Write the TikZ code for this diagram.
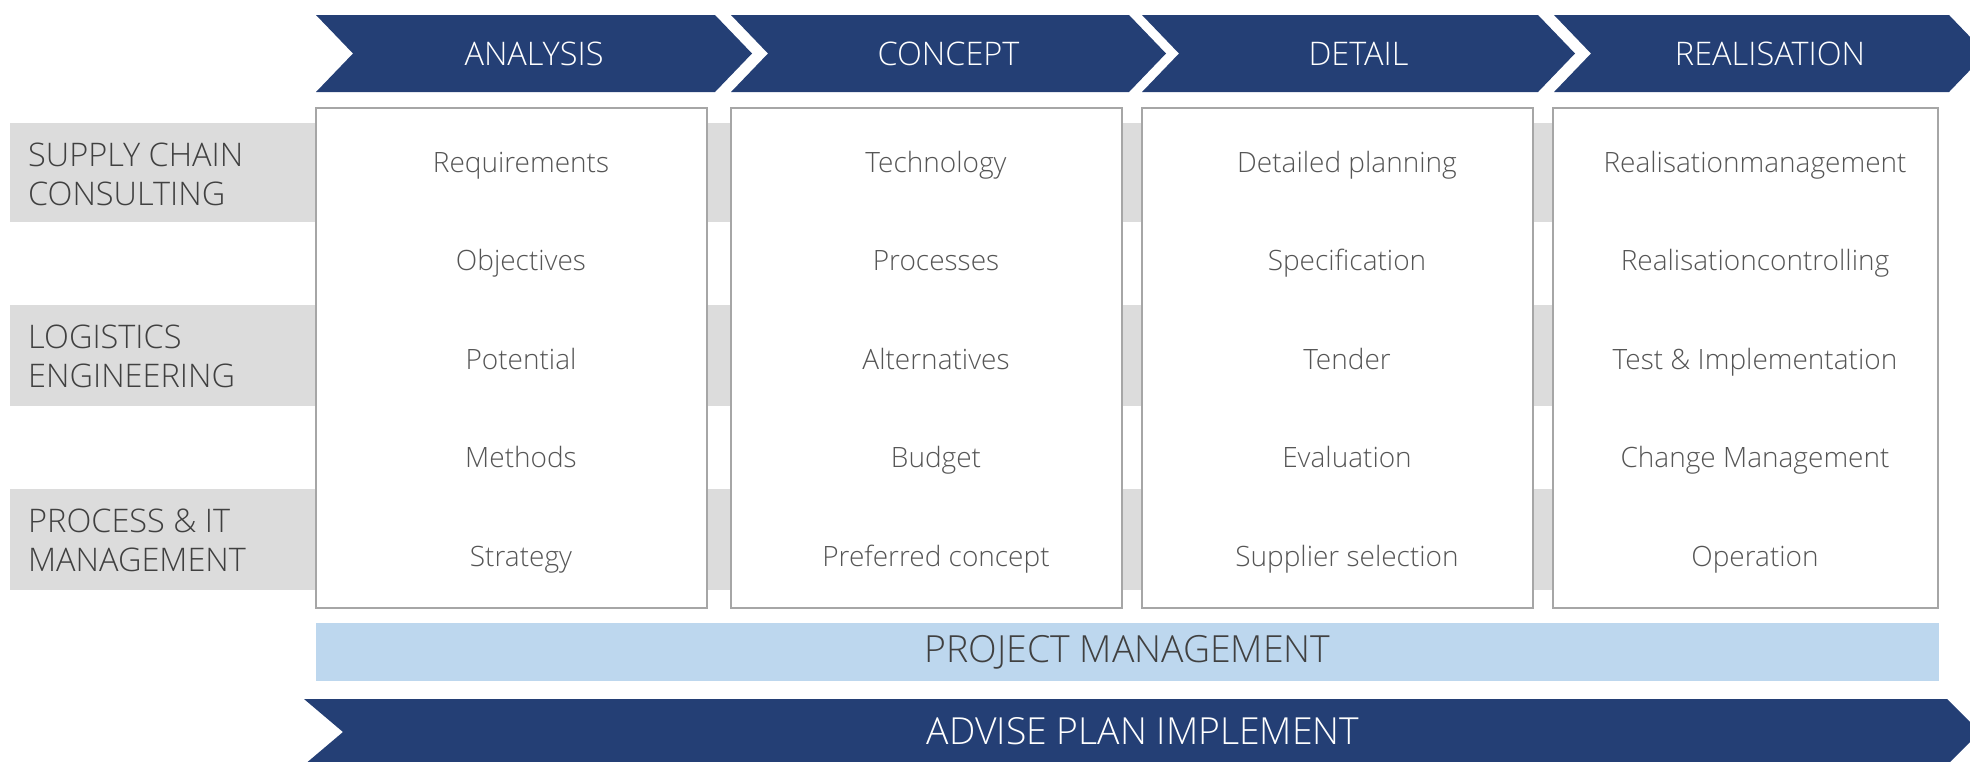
\documentclass[tikz,border=0pt]{standalone}
\usepackage{fontspec}
\IfFontExistsTF{Open Sans Light}{\setmainfont{Open Sans Light}}{\setmainfont{Open Sans}}
\definecolor{navy}{RGB}{36,63,117}
\definecolor{pmblue}{RGB}{189,215,238}
\definecolor{band}{RGB}{220,220,220}
\definecolor{boxline}{RGB}{166,166,166}
\definecolor{itemtext}{RGB}{85,85,85}
\definecolor{labeltext}{RGB}{64,64,64}
\tikzset{
  chevfill/.style={fill=navy, draw=none},
  chevtext/.style={text=white, font=\fontsize{32.5}{38}\selectfont, inner sep=0pt},
  bandfill/.style={fill=band, draw=none},
  colbox/.style={fill=white, draw=boxline, line width=1.5pt},
  item/.style={text=itemtext, font=\fontsize{28}{34}\selectfont, inner sep=0pt, anchor=base},
  rowlabel/.style={text=labeltext, font=\fontsize{32.5}{39}\selectfont, align=left, anchor=west, inner sep=0pt},
  pmtext/.style={text=labeltext, font=\fontsize{37.4}{44}\selectfont, inner sep=0pt},
  bigtext/.style={text=white, font=\fontsize{37.3}{44}\selectfont, inner sep=0pt}
}
\begin{document}
\begin{tikzpicture}[x=1pt,y=-1pt]
\useasboundingbox (0,0) rectangle (1970,761);
\clip (0,0) rectangle (1970,761);
% top chevrons
\foreach \l/\r/\nm/\txt in {316/715/ana/ANALYSIS, 731/1129/con/CONCEPT, 1142/1538/det/DETAIL, 1554/1949/rea/REALISATION}{
  \fill[chevfill] (\l,15) -- (\r,15) -- ({\r+37},53.5) -- (\r,92) -- (\l,92) -- ({\l+37},53.5) -- cycle;
  \node[chevtext] (\nm) at ({(\l+\r+37)/2},53.5) {\txt};
}
% grey row bands
\fill[bandfill] (10,123) rectangle (1938,222);
\fill[bandfill] (10,305) rectangle (1938,406);
\fill[bandfill] (10,489) rectangle (1938,590);
\node[rowlabel] (sc) at (28,174) {SUPPLY CHAIN\\CONSULTING};
\node[rowlabel] (le) at (28,356) {LOGISTICS\\ENGINEERING};
\node[rowlabel] (pi) at (28,540) {PROCESS \& IT\\MANAGEMENT};
% column boxes
\draw[colbox] (316,108) rectangle (707,608);
\draw[colbox] (731,108) rectangle (1122,608);
\draw[colbox] (1142,108) rectangle (1533,608);
\draw[colbox] (1553,108) rectangle (1938,608);
% items
\node[item] (a1) at (521,172) {Requirements};
\node[item] (a2) at (521,270.5) {Objectives};
\node[item] (a3) at (521,369) {Potential};
\node[item] (a4) at (521,467.5) {Methods};
\node[item] (a5) at (521,566) {Strategy};
\node[item] (b1) at (936,172) {Technology};
\node[item] (b2) at (936,270.5) {Processes};
\node[item] (b3) at (936,369) {Alternatives};
\node[item] (b4) at (936,467.5) {Budget};
\node[item] (b5) at (936,566) {Preferred concept};
\node[item] (c1) at (1347,172) {Detailed planning};
\node[item] (c2) at (1347,270.5) {Specification};
\node[item] (c3) at (1347,369) {Tender};
\node[item] (c4) at (1347,467.5) {Evaluation};
\node[item] (c5) at (1347,566) {Supplier selection};
\node[item] (d1) at (1755,172) {Realisationmanagement};
\node[item] (d2) at (1755,270.5) {Realisationcontrolling};
\node[item] (d3) at (1755,369) {Test \& Implementation};
\node[item] (d4) at (1755,467.5) {Change Management};
\node[item] (d5) at (1755,566) {Operation};
% project management
\fill[pmblue] (316,623) rectangle (1939,681);
\node[pmtext] (pm) at (1127.5,652) {PROJECT MANAGEMENT};
% bottom chevron
\fill[chevfill] (304,699) -- (1947,699) -- (1980,732) -- (1947,765) -- (304,765) -- (343,732) -- cycle;
\node[bigtext] (api) at (1143,731) {ADVISE PLAN IMPLEMENT};
\end{tikzpicture}
\end{document}
